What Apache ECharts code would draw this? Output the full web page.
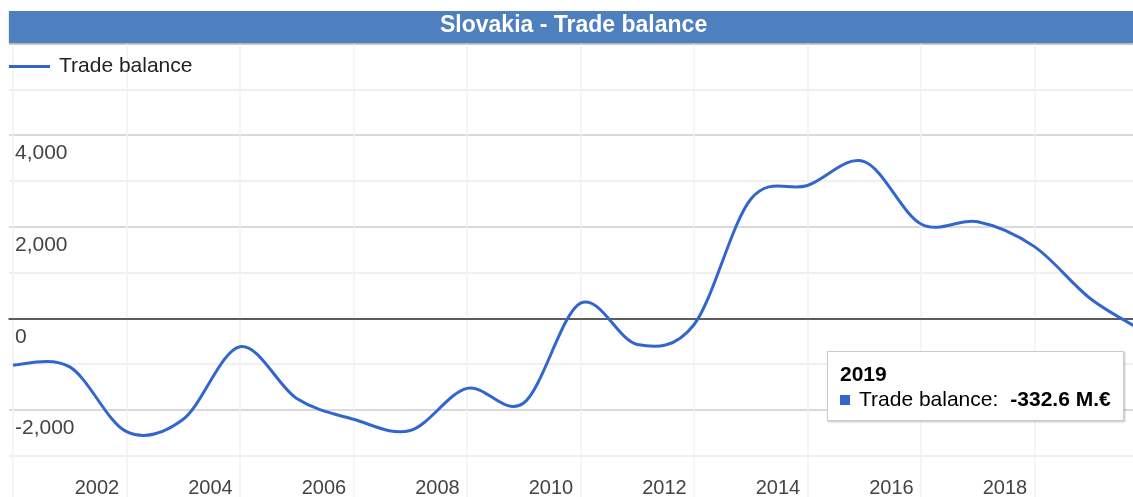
<!DOCTYPE html>
<html lang="en">
<head>
<meta charset="UTF-8">
<title>Slovakia - Trade balance</title>
<script src="https://cdn.jsdelivr.net/npm/echarts@6.0.0/dist/echarts.min.js"></script>
<style>
  html, body { margin: 0; padding: 0; background: #fff; }
  #chart { width: 1133px; height: 497px; }
</style>
</head>
<body>
<div id="chart"></div>
<script>
// annual trade balance, million euro
var years = [1999, 2000, 2001, 2002, 2003, 2004, 2005, 2006, 2007, 2008, 2009,
             2010, 2011, 2012, 2013, 2014, 2015, 2016, 2017, 2018, 2019];
var balance = [-1020, -1060, -2475, -2205, -620, -1750, -2205, -2450, -1530, -1850, 330,
               -570, -140, 2600, 2900, 3420, 2060, 2110, 1565, 415, -332.6];

// vertical grid lines and tick labels
var gridYears = [1999, 2001, 2003, 2005, 2007, 2009, 2011, 2013, 2015, 2017];
var xLabels = [2002, 2004, 2006, 2008, 2010, 2012, 2014, 2016, 2018];
var yLabels = [-2000, 0, 2000, 4000];

var font = 'Arial, "Liberation Sans", sans-serif';
var blue = '#3366cc';

// visible x range (the chart is cut at both edges)
var xMin = 1998.93, xMax = 2018.736;
var labelShift = 1.52;

var points = years.map(function (y, i) { return [y, balance[i]]; });

// catmull-rom curve through the pixel points
function smoothPath(pts) {
    var d = 'M' + pts[0][0] + ',' + pts[0][1];
    for (var i = 0; i < pts.length - 1; i++) {
        var p0 = pts[i - 1] || pts[i], p1 = pts[i], p2 = pts[i + 1], p3 = pts[i + 2] || p2;
        var c1x = p1[0] + (p2[0] - p0[0]) / 6, c1y = p1[1] + (p2[1] - p0[1]) / 6;
        var c2x = p2[0] - (p3[0] - p1[0]) / 6, c2y = p2[1] - (p3[1] - p1[1]) / 6;
        d += ' C' + c1x + ',' + c1y + ' ' + c2x + ',' + c2y + ' ' + p2[0] + ',' + p2[1];
    }
    return d;
}

var chart = echarts.init(document.getElementById('chart'));

var option = {
    animation: false,
    title: {
        text: 'Slovakia - Trade balance',
        left: 440,
        top: 14,
        padding: 0,
        z: 10,
        textStyle: { color: '#fff', fontWeight: 'bold', fontSize: 23, fontFamily: font }
    },
    graphic: [{
        type: 'rect',
        z: 5,
        shape: { x: 9, y: 11, width: 1124, height: 32 },
        style: { fill: '#4e80bf', shadowBlur: 2, shadowOffsetY: 1, shadowColor: 'rgba(0,0,0,0.25)' }
    }],
    legend: {
        left: 9,
        top: 56,
        padding: 0,
        icon: 'rect',
        itemWidth: 41,
        itemHeight: 3,
        itemStyle: { color: blue, opacity: 1 },
        textStyle: { fontFamily: font, fontSize: 21, color: '#222', padding: [0, 0, 0, 4] },
        data: ['Trade balance']
    },
    tooltip: {
        trigger: 'item',
        alwaysShowContent: true,
        transitionDuration: 0,
        position: [827, 351],
        backgroundColor: '#fff',
        borderColor: '#ccc',
        borderWidth: 1,
        padding: [9, 12],
        extraCssText: 'box-shadow: 1px 1px 2px rgba(0,0,0,0.25); border-radius: 0;',
        textStyle: { fontFamily: font, fontSize: 21, color: '#000' },
        formatter: function (p) {
            var v = p.value[1].toLocaleString('en-US', { maximumFractionDigits: 1 });
            return '<div style="line-height:25px;width:271px;font-size:21px">' +
                '<b>' + p.value[0] + '</b><br>' +
                '<span style="display:inline-block;width:10px;height:10px;background:' + blue +
                ';margin-right:9px;vertical-align:1px"></span>' +
                'Trade balance:<b style="margin-left:12px">' + v + ' M.€</b></div>';
        }
    },
    // plot runs under the title bar and past the bottom edge
    grid: { left: 9, right: 0, top: 43.5, height: 458, outerBoundsMode: 'none' },
    xAxis: [{
        type: 'value',
        min: xMin,
        max: xMax,
        axisLine: { show: true, onZero: true, lineStyle: { color: '#333', width: 1.5 } },
        axisTick: { show: false, customValues: gridYears },
        axisLabel: { show: false },
        splitLine: { show: true, lineStyle: { color: '#f2f2f2', width: 1.5 } }
    }, {
        type: 'value',
        min: xMin + labelShift,
        max: xMax + labelShift,
        position: 'bottom',
        axisLine: { show: false, onZero: false },
        axisTick: { show: false },
        splitLine: { show: false },
        axisLabel: {
            customValues: xLabels,
            inside: true,
            margin: 3,
            color: '#444',
            fontSize: 20,
            fontFamily: font,
            formatter: function (v) { return String(v); }
        }
    }],
    yAxis: {
        type: 'value',
        min: -4000,
        max: 6000,
        interval: 1000,
        axisLine: { show: false },
        axisTick: { show: false },
        axisLabel: {
            customValues: yLabels,
            inside: true,
            margin: 6,
            verticalAlign: 'top',
            padding: [8, 0, 0, 0],
            color: '#444',
            fontSize: 21,
            fontFamily: font,
            formatter: function (v) { return v.toLocaleString('en-US'); }
        },
        splitLine: { lineStyle: { color: ['#cccccc', '#ebebeb'], width: 1.5 } }
    },
    series: [{
        // carries the points for legend and tooltip
        name: 'Trade balance',
        type: 'line',
        xAxisIndex: 0,
        clip: false,
        symbol: 'circle',
        symbolSize: 1,
        showSymbol: true,
        lineStyle: { opacity: 0 },
        itemStyle: { color: blue, opacity: 0 },
        emphasis: { disabled: true },
        data: points
    }, {
        // the drawn curve
        name: 'Trade balance',
        type: 'custom',
        xAxisIndex: 0,
        silent: true,
        tooltip: { show: false },
        itemStyle: { color: blue },
        data: points,
        renderItem: function (params, api) {
            if (params.dataIndex !== 0) return null;
            var px = points.map(function (p) { return api.coord(p); });
            return {
                type: 'path',
                shape: { pathData: smoothPath(px) },
                style: { fill: 'none', stroke: blue, lineWidth: 3 }
            };
        }
    }]
};

chart.setOption(option);
chart.dispatchAction({ type: 'showTip', seriesIndex: 0, dataIndex: years.length - 1 });
</script>
</body>
</html>
